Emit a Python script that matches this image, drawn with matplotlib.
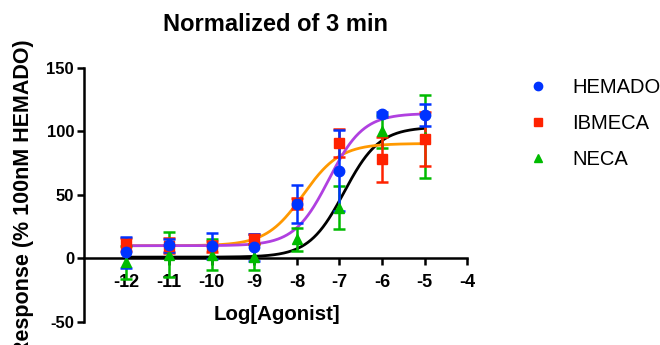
import numpy as np
import matplotlib.pyplot as plt

plt.rcParams['font.family'] = ['Liberation Sans', 'DejaVu Sans']
plt.rcParams['axes.unicode_minus'] = False

# Data (mean +/- error)
log_agonist = [-12, -11, -10, -9, -8, -7, -6, -5]

hemado = [4.7, 10.4, 9.9, 8.6, 42.6, 69.0, 113.6, 113.0]
hemado_err = [12, 5, 10, 11, 15, 32, 2, 9]

ibmeca = [11.2, 10.0, 9.4, 15.0, 43.3, 91.0, 78.0, 94.0]
ibmeca_err = [5, 6, 4, 4, 4, 11, 17.6, 21]

neca = [-3, 3, 3, 1, 15, 40, 100, 96]
neca_err = [13, 18, 12, 10, 9, 17, 13, 33]

# fitted sigmoid parameters (bottom, top, logEC50, hill)
fit_hemado = (10, 114.2, -7.25, 1.07)
fit_ibmeca = (10, 90.5, -7.85, 1.0)
fit_neca = (1, 103.5, -6.89, 1.05)

xticks = [-12, -11, -10, -9, -8, -7, -6, -5, -4]
yticks = [-50, 0, 50, 100, 150]


def sigmoid(x, bottom, top, logec50, hill):
    return bottom + (top - bottom) / (1 + 10 ** ((logec50 - x) * hill))


fig = plt.figure(figsize=(6.6, 3.45), dpi=100)
ax = fig.add_axes([0.127, 0.067, 0.581, 0.736])

xs = np.linspace(-12, -5, 300)
ax.plot(xs, sigmoid(xs, *fit_neca), color='black', lw=2, zorder=2)
ax.plot(xs, sigmoid(xs, *fit_ibmeca), color='#FF9900', lw=2, zorder=2)
ax.plot(xs, sigmoid(xs, *fit_hemado), color='#B040E0', lw=2, zorder=2)

kw = dict(linestyle='none', capsize=4.5, elinewidth=1.8, capthick=1.8, zorder=3)
ax.errorbar(log_agonist, neca, yerr=neca_err, marker='^', ms=7,
            color='#00BB00', label='NECA', **kw)
ax.errorbar(log_agonist, ibmeca, yerr=ibmeca_err, marker='s', ms=7,
            color='#FF2200', label='IBMECA', **kw)
ax.errorbar(log_agonist, hemado, yerr=hemado_err, marker='o', ms=7.5,
            color='#0033FF', label='HEMADO', **kw)

ax.set_xlim(-13, -4)
ax.set_ylim(-50, 150)
ax.set_xticks(xticks)
ax.set_yticks(yticks)
ax.spines['bottom'].set_position(('data', 0))
ax.spines['top'].set_visible(False)
ax.spines['right'].set_visible(False)
for s in ['left', 'bottom']:
    ax.spines[s].set_linewidth(1.8)
ax.tick_params(width=1.8, length=5, labelsize=12)
ax.tick_params(axis='x', pad=6, labelsize=13)
ax.tick_params(axis='y', pad=2)
for lab in ax.get_xticklabels() + ax.get_yticklabels():
    lab.set_fontweight('bold')

fig.text(0.418, 0.93, 'Normalized of 3 min', ha='center', va='center',
         fontsize=17, fontweight='bold')
ax.set_ylabel('Response (% 100nM HEMADO)', fontsize=15.5, fontweight='bold')
ax.yaxis.set_label_coords(-0.13, 0.49)
ax.text(-8.47, -44, 'Log[Agonist]', ha='center', va='center',
        fontsize=14.7, fontweight='bold')

h, l = ax.get_legend_handles_labels()
handles = [hh[0] for hh in h[::-1]]
fig.legend(handles, l[::-1], loc='upper left', bbox_to_anchor=(0.8, 0.775),
           frameon=False, fontsize=14.5, handletextpad=1.2, labelspacing=0.85,
           handlelength=1.0, markerscale=0.8, borderpad=0, borderaxespad=0)

fig.savefig('out.png', dpi=100)
